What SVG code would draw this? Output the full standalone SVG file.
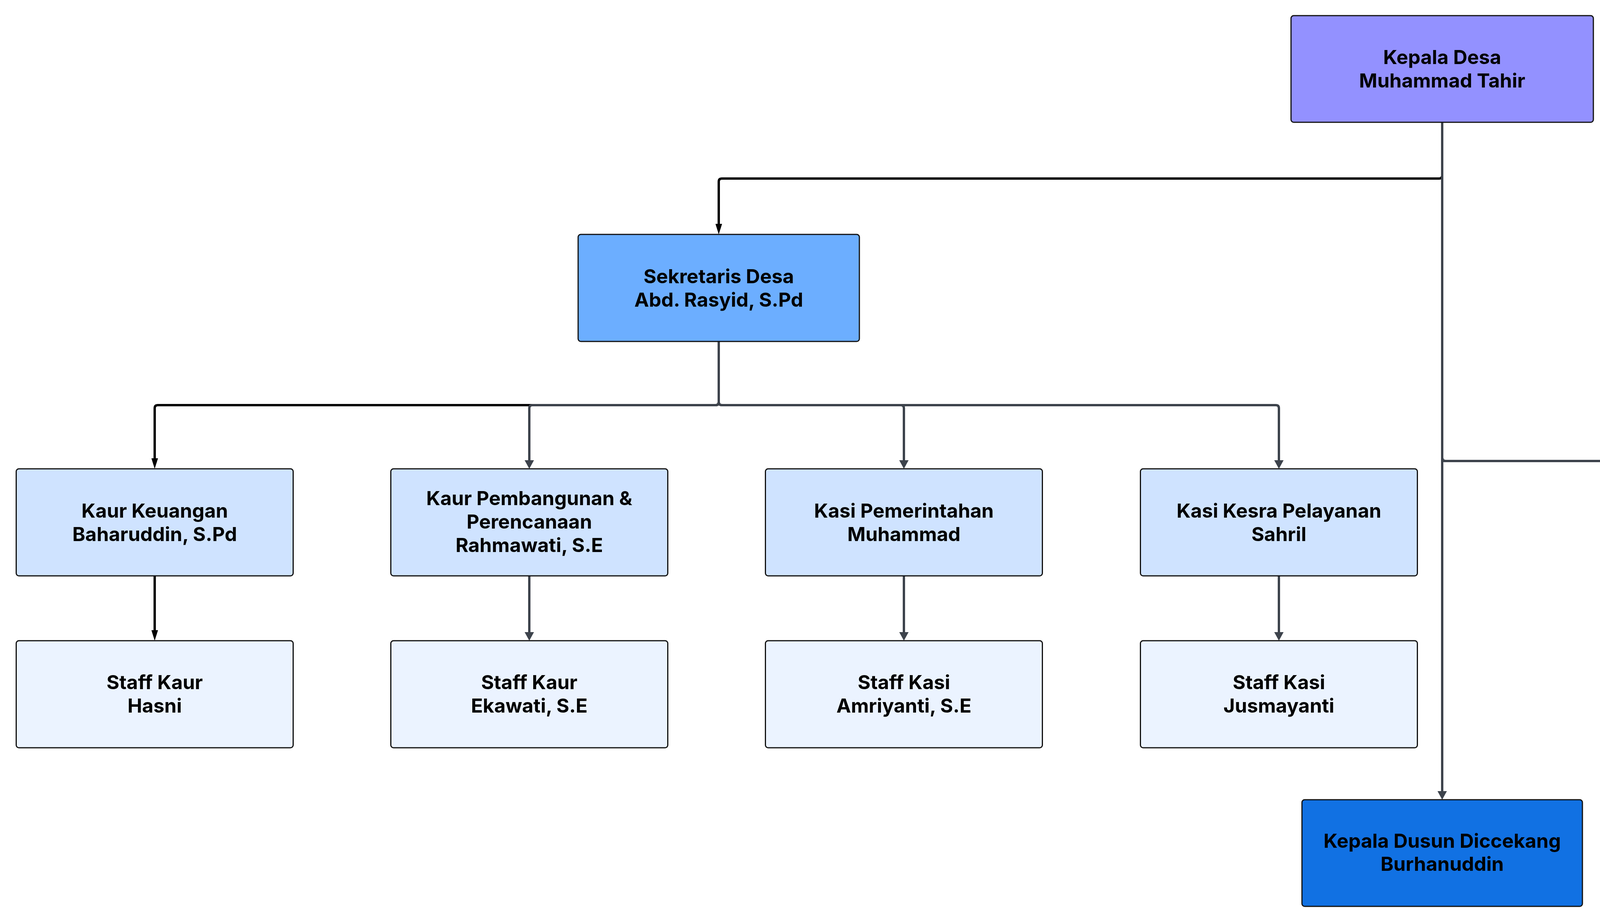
<svg xmlns="http://www.w3.org/2000/svg" width="7292" height="2360" viewBox="0 0 7292 2360">
<style>
.box{stroke:#111;stroke-width:3}
.l0{fill:#9391ff}
.l1{fill:#6caeff}
.l2{fill:#cfe3ff}
.l3{fill:#ebf3ff}
.l4{fill:#1171e3}
text{font-family:Inter,"Liberation Sans",sans-serif;font-weight:700;font-size:50px;fill:#000;text-anchor:middle}
.s44{font-size:44px}
.s40{font-size:40px}
.cg{fill:none;stroke:#3d434c;stroke-width:6}
.cb{fill:none;stroke:#000;stroke-width:6}
</style>
<defs>
<marker id="ag" markerUnits="userSpaceOnUse" markerWidth="22" markerHeight="24" viewBox="0 0 22 24" refX="0" refY="12" orient="auto"><path d="M0,0 L22,12 L0,24 Z" fill="#3d434c"/></marker>
<marker id="ab" markerUnits="userSpaceOnUse" markerWidth="27" markerHeight="17" viewBox="0 0 27 17" refX="0" refY="8.5" orient="auto"><path d="M0,0 L27,8.5 L0,17 Z" fill="#000"/></marker>
</defs>
<g id="connectors">
<path class="cb" marker-end="url(#ab)" d="M3692,313 V449 Q3692,457 3684,457 H1848 Q1840,457 1840,465 V573"/>
<path class="cb" marker-end="url(#ab)" d="M1840,874 V1029 Q1840,1037 1832,1037 H404 Q396,1037 396,1045 V1173"/>
<path class="cb" marker-end="url(#ab)" d="M396,1474 V1613"/>
<path class="cg" marker-end="url(#ag)" d="M1840,874 V1029 Q1840,1037 1832,1037 H1363 Q1355,1037 1355,1045 V1178"/>
<path class="cg" marker-end="url(#ag)" d="M1840,874 V1029 Q1840,1037 1848,1037 H2306 Q2314,1037 2314,1045 V1178"/>
<path class="cg" marker-end="url(#ag)" d="M1840,874 V1029 Q1840,1037 1848,1037 H3266 Q3274,1037 3274,1045 V1178"/>
<path class="cg" marker-end="url(#ag)" d="M1355,1474 V1618"/>
<path class="cg" marker-end="url(#ag)" d="M2314,1474 V1618"/>
<path class="cg" marker-end="url(#ag)" d="M3274,1474 V1618"/>
<path class="cg" marker-end="url(#ag)" d="M3692,313 V2025"/>
<path class="cg" marker-end="url(#ag)" d="M3692,313 V1172 Q3692,1180 3700,1180 H4484 Q4492,1180 4492,1188 V2025"/>
<path class="cg" marker-end="url(#ag)" d="M3692,313 V1172 Q3692,1180 3700,1180 H5284 Q5292,1180 5292,1188 V2025"/>
<path class="cg" marker-end="url(#ag)" d="M3692,313 V1172 Q3692,1180 3700,1180 H6084 Q6092,1180 6092,1188 V2025"/>
<path class="cg" marker-end="url(#ag)" d="M3692,313 V1172 Q3692,1180 3700,1180 H6884 Q6892,1180 6892,1188 V2025"/>
</g>
<g id="kepala-desa"><rect class="box l0" x="3305" y="40" width="774" height="273" rx="7"/><text x="3692" y="164">Kepala Desa</text><text x="3692" y="224">Muhammad Tahir</text></g>
<g id="sekretaris-desa"><rect class="box l1" x="1480" y="600" width="720" height="274" rx="7"/><text x="1840" y="725">Sekretaris Desa</text><text x="1840" y="785">Abd. Rasyid, S.Pd</text></g>
<g id="kaur-keuangan"><rect class="box l2" x="41.5" y="1200" width="709" height="274" rx="7"/><text x="396" y="1325">Kaur Keuangan</text><text x="396" y="1385">Baharuddin, S.Pd</text></g>
<g id="kaur-pembangunan"><rect class="box l2" x="1000.5" y="1200" width="709" height="274" rx="7"/><text x="1355" y="1293">Kaur Pembangunan &amp;</text><text x="1355" y="1353">Perencanaan</text><text x="1355" y="1413">Rahmawati, S.E</text></g>
<g id="kasi-pemerintahan"><rect class="box l2" x="1959.5" y="1200" width="709" height="274" rx="7"/><text x="2314" y="1325">Kasi Pemerintahan</text><text x="2314" y="1385">Muhammad</text></g>
<g id="kasi-kesra"><rect class="box l2" x="2919.5" y="1200" width="709" height="274" rx="7"/><text x="3274" y="1325">Kasi Kesra Pelayanan</text><text x="3274" y="1385">Sahril</text></g>
<g id="staff-kaur-1"><rect class="box l3" x="41.5" y="1640" width="709" height="274" rx="7"/><text x="396" y="1764">Staff Kaur</text><text x="396" y="1824">Hasni</text></g>
<g id="staff-kaur-2"><rect class="box l3" x="1000.5" y="1640" width="709" height="274" rx="7"/><text x="1355" y="1764">Staff Kaur</text><text x="1355" y="1824">Ekawati, S.E</text></g>
<g id="staff-kasi-1"><rect class="box l3" x="1959.5" y="1640" width="709" height="274" rx="7"/><text x="2314" y="1764">Staff Kasi</text><text x="2314" y="1824">Amriyanti, S.E</text></g>
<g id="staff-kasi-2"><rect class="box l3" x="2919.5" y="1640" width="709" height="274" rx="7"/><text x="3274" y="1764">Staff Kasi</text><text x="3274" y="1824">Jusmayanti</text></g>
<g id="dusun-diccekang"><rect class="box l4" x="3333" y="2047" width="718" height="273" rx="7"/><text x="3692" y="2170">Kepala Dusun Diccekang</text><text x="3692" y="2229">Burhanuddin</text></g>
<g id="dusun-tamalate"><rect class="box l4" x="4133" y="2047" width="718" height="273" rx="7"/><text x="4492" y="2170">Kepala Dusun Tamalate</text><text x="4492" y="2229">Syaripuddin</text></g>
<g id="dusun-tompo-balang"><rect class="box l4" x="4933" y="2047" width="718" height="273" rx="7"/><text class="s44" x="5292" y="2172">Kepala Dusun Tompo Balang</text><text x="5292" y="2230">Hasbi</text></g>
<g id="dusun-tammu-tammu"><rect class="box l4" x="5733" y="2047" width="718" height="273" rx="7"/><text class="s44" x="6092" y="2172">Kepala Dusun Tammu-Tammu</text><text x="6092" y="2230">Fery Andayani</text></g>
<g id="dusun-moncongloe-bulu"><rect class="box l4" x="6533" y="2047" width="718" height="273" rx="7"/><text class="s40" x="6892" y="2168">Kepala Dusun Moncongloe Bulu</text><text x="6892" y="2226">Rahman</text></g>
</svg>
